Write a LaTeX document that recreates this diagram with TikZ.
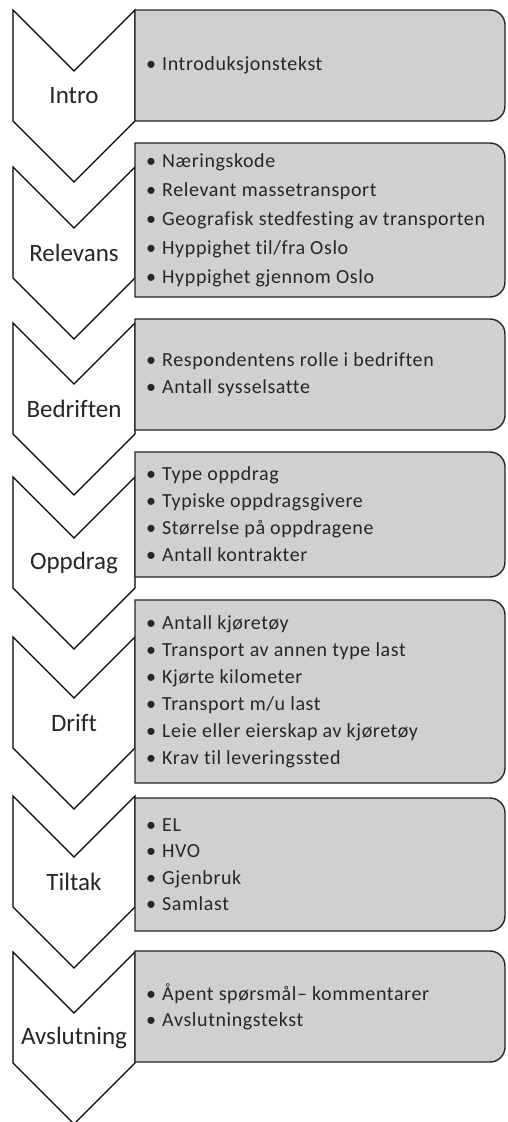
\documentclass[tikz,border=0pt]{standalone}
\usepackage{fontspec}
\setmainfont{Carlito}[Ligatures={NoCommon}]
\newfontfamily\itemfont{Carlito}[LetterSpace=3, Ligatures={NoCommon}]
\usetikzlibrary{positioning,shapes.geometric}

\definecolor{boxgray}{RGB}{208,208,208}
\definecolor{inkgray}{RGB}{38,38,38}
\newcommand{\itm}{\makebox[16pt][l]{\textbullet}}

\begin{document}
\begin{tikzpicture}[x=1pt,y=-1pt,
        chevron/.style={draw=black, fill=white, line width=1.1pt, line join=miter},
        listbox/.style={draw=black!85, fill=boxgray, line width=1.4pt},
        steplabel/.style={font=\fontsize{25}{30}\selectfont, text=inkgray, inner sep=0pt},
        items/.style={anchor=west, align=left, inner sep=0pt, text=inkgray}]
    \useasboundingbox (0,0) rectangle (507,1122);
    % one chevron and one list box per step, top to bottom
    \foreach \ii/\lab/\ctop/\btop/\bbot/\sp/\txt in {
        1/Intro/10/10/121/27/{\itm Introduksjonstekst},
        2/Relevans/167/143/297/29/{\itm Næringskode\\ \itm Relevant massetransport\\ \itm Geografisk stedfesting av transporten\\ \itm Hyppighet til/fra Oslo\\ \itm Hyppighet gjennom Oslo},
        3/Bedriften/323/319/430/27/{\itm Respondentens rolle i bedriften\\ \itm Antall sysselsatte},
        4/Oppdrag/477/452/577/27/{\itm Type oppdrag\\ \itm Typiske oppdragsgivere\\ \itm Størrelse på oppdragene\\ \itm Antall kontrakter},
        5/Drift/637/600/783/27/{\itm Antall kjøretøy\\ \itm Transport av annen type last\\ \itm Kjørte kilometer\\ \itm Transport m/u last\\ \itm Leie eller eierskap av kjøretøy\\ \itm Krav til leveringssted},
        6/Tiltak/796/798/931/26.5/{\itm EL\\ \itm HVO\\ \itm Gjenbruk\\ \itm Samlast},
        7/Avslutning/952/951/1062/26.5/{\itm Åpent spørsmål– kommentarer\\ \itm Avslutningstekst}}{
        % chevron
        \coordinate (C_\ii) at (13,\ctop);
        \draw[chevron] (C_\ii) -- ++(61,61) -- ++(61,-61) -- ++(0,111)
            -- ++(-61,61) -- ++(-61,-61) -- cycle;
        \node[steplabel] (L_\ii) at ([shift={(61,86)}]C_\ii) {\lab};
        % list box, rounded on the right side only
        \draw[listbox] (135,\btop) -- (490,\btop)
            arc[start angle=-90, end angle=0, radius=15] -- (505,\bbot-15)
            arc[start angle=0, end angle=90, radius=15] -- (135,\bbot) -- cycle;
        \node[items, font=\itemfont\fontsize{20}{\sp}\selectfont] (T_\ii) at (146,{(\btop+\bbot)/2}) {\txt};
    }
\end{tikzpicture}
\end{document}
